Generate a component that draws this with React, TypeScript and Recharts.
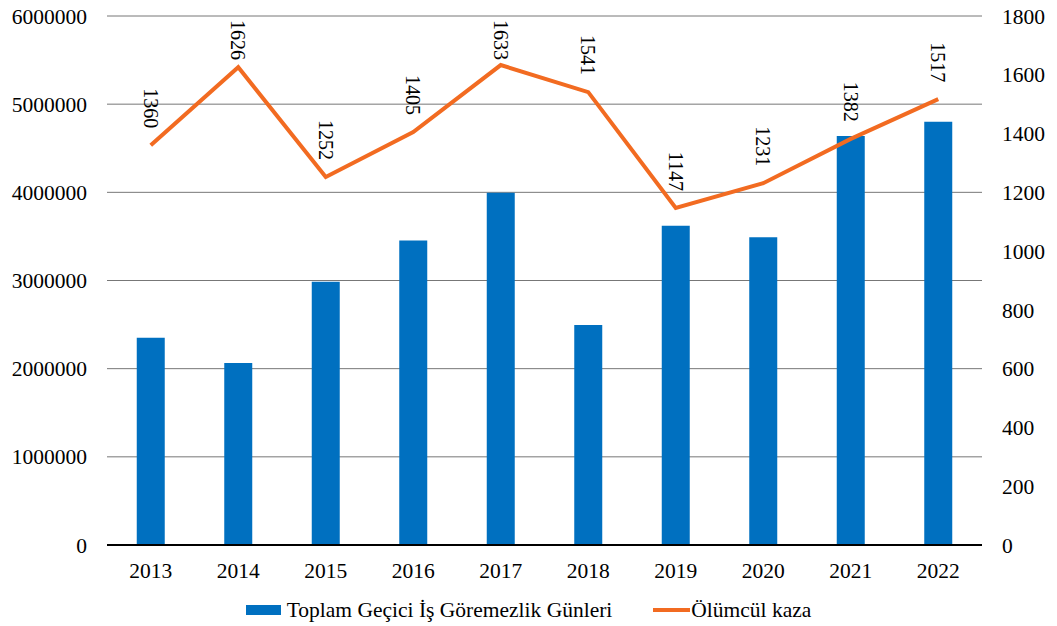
import { ComposedChart, Bar, Line, XAxis, YAxis, CartesianGrid, Legend, LabelList } from 'recharts'

const years = ['2013', '2014', '2015', '2016', '2017', '2018', '2019', '2020', '2021', '2022']
const toplamGunler = [2350000, 2065000, 2985000, 3455000, 3995000, 2495000, 3620000, 3490000, 4640000, 4800000]
const olumculKaza = [1360, 1626, 1252, 1405, 1633, 1541, 1147, 1231, 1382, 1517]
const leftTicks = [0, 1000000, 2000000, 3000000, 4000000, 5000000, 6000000]
const rightTicks = [0, 200, 400, 600, 800, 1000, 1200, 1400, 1600, 1800]

const barName = 'Toplam Geçici İş Göremezlik Günleri'
const lineName = 'Ölümcül kaza'

const data = years.map((year, i) => ({
  year,
  [barName]: toplamGunler[i],
  [lineName]: olumculKaza[i]
}))

const font = '"Liberation Serif", "Times New Roman", serif'
const blue = '#0070C0'
const orange = '#F26B21'

const tickStyle = { fill: '#000', fontSize: 21.5, fontFamily: font }

// rotated value labels above each point, kept inside the plot at the top
const RotatedLabel = (props: any) => {
  const { x, y, value } = props
  const endY = Math.max(y - 17, 60)
  return (
    <text
      x={x}
      y={endY}
      transform={`rotate(90 ${x} ${endY})`}
      textAnchor="end"
      dominantBaseline="central"
      fill="#000"
      fontSize={20}
      fontFamily={font}
    >
      {value}
    </text>
  )
}

const ChartLegend = () => (
  <div
    style={{
      height: 28,
      display: 'flex',
      alignItems: 'center',
      justifyContent: 'center',
      fontFamily: font,
      fontSize: 21.5,
      color: '#000'
    }}
  >
    <span style={{ display: 'inline-block', width: 35, height: 10, background: blue, marginRight: 6 }} />
    <span>{barName}</span>
    <span style={{ display: 'inline-block', width: 37, height: 4, background: orange, marginLeft: 41, marginRight: 1 }} />
    <span>{lineName}</span>
  </div>
)

const App = () => {
  return (
    <div style={{ position: 'absolute', left: 0, top: 0 }}>
      <ComposedChart width={1057} height={626} data={data} margin={{ top: 16, right: 0, bottom: 0, left: 0 }} barCategoryGap="34%">
        <CartesianGrid yAxisId="left" vertical={false} stroke="#777" />
        <XAxis
          dataKey="year"
          height={53}
          tickLine={false}
          tickSize={0}
          tickMargin={18}
          axisLine={{ stroke: '#000', strokeWidth: 2 }}
          tick={tickStyle}
        />
        <YAxis
          yAxisId="left"
          width={107}
          domain={[0, 6000000]}
          ticks={leftTicks}
          axisLine={false}
          tickLine={false}
          tickSize={0}
          tickMargin={20}
          tick={tickStyle}
        />
        <YAxis
          yAxisId="right"
          orientation="right"
          width={75}
          domain={[0, 1800]}
          ticks={rightTicks}
          axisLine={false}
          tickLine={false}
          tickSize={0}
          tickMargin={20}
          tick={{ ...tickStyle, textAnchor: 'start' }}
        />
        <Legend
          verticalAlign="bottom"
          content={<ChartLegend />}
          wrapperStyle={{ left: 0, width: 1057, top: 596, bottom: 'auto' }}
        />
        <Bar yAxisId="left" dataKey={barName} fill={blue} isAnimationActive={false} />
        <Line
          yAxisId="right"
          type="linear"
          dataKey={lineName}
          stroke={orange}
          strokeWidth={4}
          dot={false}
          activeDot={false}
          isAnimationActive={false}
        >
          <LabelList dataKey={lineName} content={<RotatedLabel />} />
        </Line>
      </ComposedChart>
    </div>
  )
}

export default App
